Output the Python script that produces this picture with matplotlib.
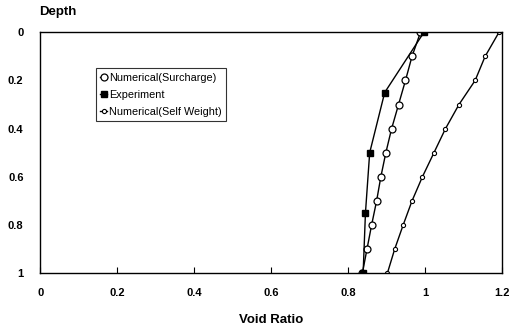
import matplotlib
matplotlib.use("Agg")
import matplotlib.pyplot as plt

plt.rcParams['font.family'] = ['Liberation Sans', 'DejaVu Sans']

# data
depth_sur = [0, 0.1, 0.2, 0.3, 0.4, 0.5, 0.6, 0.7, 0.8, 0.9, 1.0]
void_sur = [0.988, 0.966, 0.949, 0.931, 0.913, 0.898, 0.885, 0.874, 0.861, 0.849, 0.837]

depth_exp = [0, 0.25, 0.5, 0.75, 1.0]
void_exp = [0.997, 0.895, 0.856, 0.845, 0.839]

depth_sw = [0, 0.1, 0.2, 0.3, 0.4, 0.5, 0.6, 0.7, 0.8, 0.9, 1.0]
void_sw = [1.192, 1.156, 1.130, 1.088, 1.053, 1.023, 0.993, 0.966, 0.943, 0.921, 0.902]

x_ticks = [0, 0.2, 0.4, 0.6, 0.8, 1, 1.2]
x_labels = ["0", "0.2", "0.4", "0.6", "0.8", "1", "1.2"]
y_ticks = [0, 0.2, 0.4, 0.6, 0.8, 1]
y_labels = ["0", "0.2", "0.4", "0.6", "0.8", "1"]

fig = plt.figure(figsize=(5.16, 3.26), dpi=100)
ax = fig.add_axes([0.078, 0.162, 0.895, 0.739])

ax.plot(void_sur, depth_sur, '-', color='black', lw=1,
        marker='o', ms=5, mfc='white', mec='black', mew=0.9,
        label="Numerical(Surcharge)")
ax.plot(void_exp, depth_exp, '-', color='black', lw=1,
        marker='s', ms=4.5, mfc='black', mec='black',
        label="Experiment")
ax.plot(void_sw, depth_sw, '-', color='black', lw=1,
        marker='o', ms=3, mfc='white', mec='black', mew=0.8,
        label="Numerical(Self Weight)")

ax.set_xlim(0, 1.2)
ax.set_ylim(1, 0)
ax.set_xticks(x_ticks)
ax.set_xticklabels(x_labels, fontsize=8, fontweight='bold')
ax.set_yticks(y_ticks)
ax.set_yticklabels(y_labels, fontsize=8, fontweight='bold')
ax.tick_params(axis='x', direction='in', length=4, pad=11)
ax.tick_params(axis='y', length=0, pad=12)
for s in ax.spines.values():
    s.set_linewidth(1)

ax.set_xlabel("Void Ratio", fontsize=9.5, fontweight='bold', labelpad=11)
fig.text(0.076, 0.962, "Depth", fontsize=9.5, fontweight='bold', ha='left', va='center')

leg = ax.legend(loc='upper left', bbox_to_anchor=(0.121, 0.85), fontsize=7.8,
                frameon=True, fancybox=False, edgecolor='black',
                handlelength=0.6, handletextpad=0.2, borderpad=0.4,
                labelspacing=0.65, borderaxespad=0)
leg.get_frame().set_linewidth(0.8)

fig.savefig("out.png", dpi=100)
